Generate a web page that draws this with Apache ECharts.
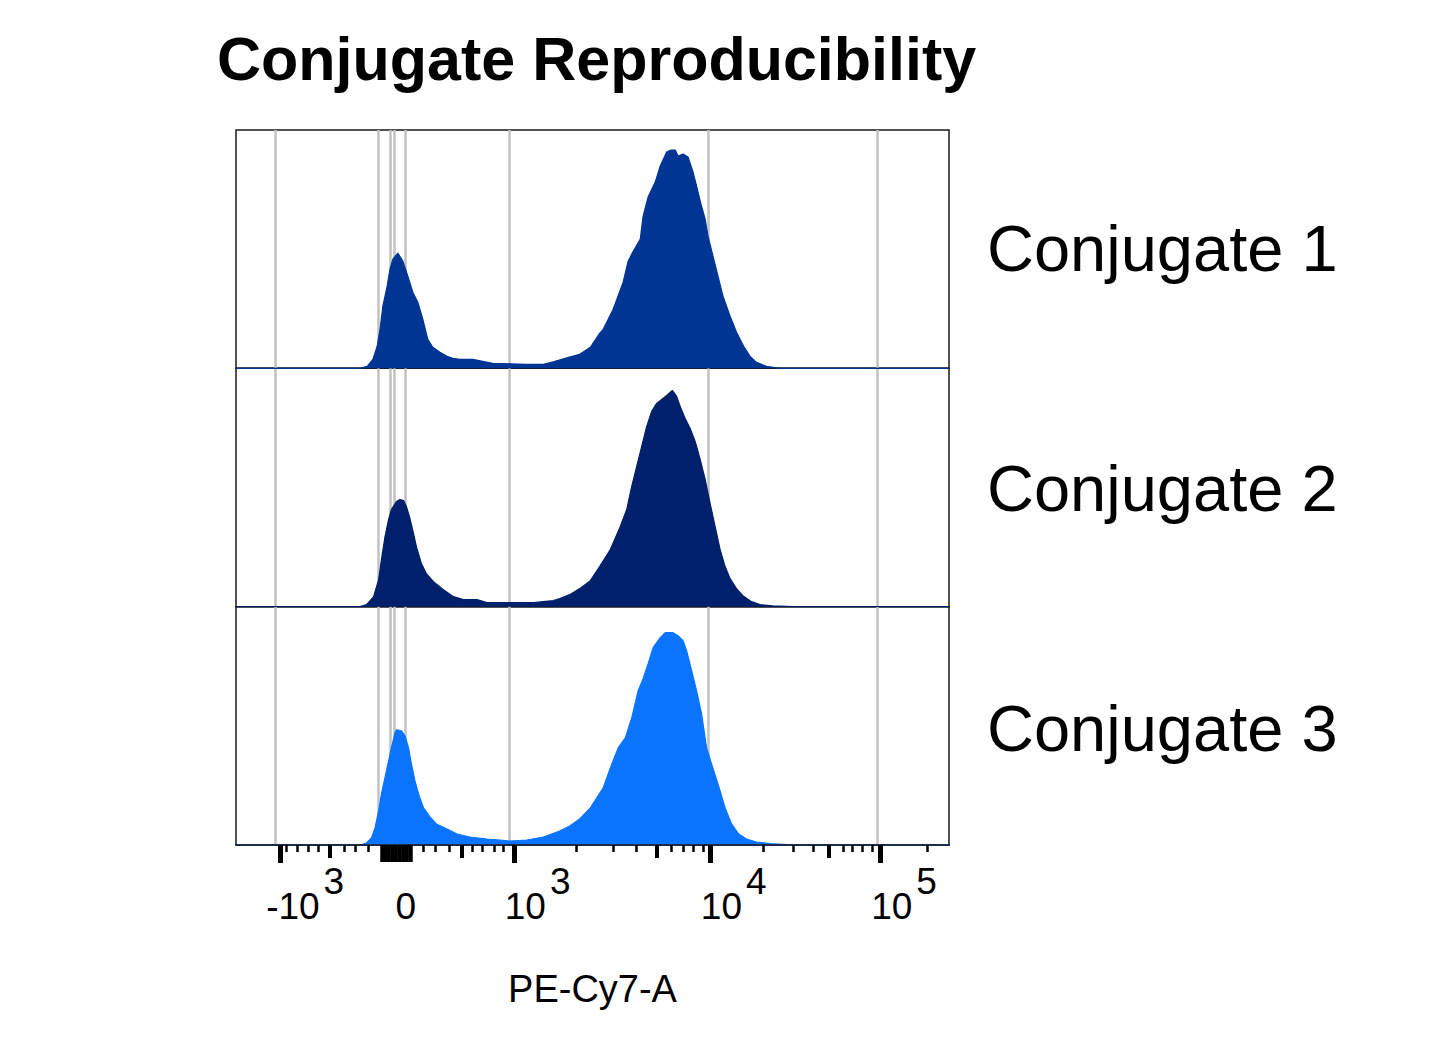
<!DOCTYPE html>
<html>
<head>
<meta charset="utf-8">
<title>Conjugate Reproducibility</title>
<script src="https://cdn.jsdelivr.net/npm/echarts@6/dist/echarts.min.js"></script>
<style>
html, body { margin: 0; padding: 0; background: #fff; }
#main { width: 1431px; height: 1064px; }
</style>
</head>
<body>
<div id="main"></div>
<script>
// x values are display units (0..1000) of the biexponential PE-Cy7-A scale
// y values are event counts of each histogram
var x1 = [0,174,184,192,198,202,206,212,216,220,227,234,241,248,255,262,269,276,286,296,304,314,332,346,360,384,408,431,445,464,482,497,510,515,529,543,550,555,567,571,578,588,595,604,610,616,620,627,634,641,646,651,658,662,669,676,683,693,702,712,721,730,744,763,1000];
var y1 = [0,0,2,9,22,39,62,82,99,109,115,107,92,76,66,49,29,21,16,12,10,9,9,7,5,4.5,4,4,6.5,10.5,14,21,35,39,59,86,107,114,129,152,171,186,202,216,218,218,212,214,211,196,182,167,149,132,112,92,72,52,36,22,12,6,2,0,0];

var x2 = [0,174,183,193,200,204,209,214,218,225,230,235,239,244,249,253,260,267,277,291,305,319,338,352,384,417,445,454,468,482,497,510,525,539,548,555,562,569,576,583,590,597,604,612,618,623,630,637,644,651,658,665,672,679,686,693,702,711,723,735,753,781,1000];
var y2 = [0,0,2,10,27,47,70,87,97,105,107,106,100,88,73,60,43,33,25,17,10,7,7,4,4,4,6,8,12,18,26,40,57,80,97,120,140,160,180,195,203,207,211,216,210,200,188,178,165,147,127,103,80,57,40,28,18,11,5,2,0.7,0,0];

var x3 = [0,174,183,190,195,200,204,211,218,223,225,232,237,242,246,251,256,263,272,281,296,310,328,352,370,384,408,431,454,468,482,497,506,515,525,536,546,555,564,571,578,585,595,602,613,620,627,632,639,646,653,660,667,676,686,695,705,716,730,749,773,1000];
var y3 = [0,0,2,7,17,34,51,74,97,112,115,114,109,97,81,64,51,37,28,21,16,11,8,6,5,4,5,8,14,19,26,37,47,57,77,97,107,127,154,166,181,197,207,212,212,209,204,194,174,154,131,97,81,61,37,21,11,6,3,1.3,0.3,0];

var names = ['Conjugate 1', 'Conjugate 2', 'Conjugate 3'];
var colors = ['#003594', '#00206b', '#0a74ff'];

// gray reference lines and axis ticks, in the same display units
var gridX = [55, 199, 217, 222, 238, 383, 663, 899];
var majorTicks = [62, 390, 665, 903];
var zeroTicks = [205, 209, 214, 219, 224, 229, 234, 239, 244];
var mediumTicks = [132, 316, 590, 832];
var minorTicks = [70, 86, 101, 116, 152, 167, 185, 262, 279, 299, 332, 346, 362, 375, 477, 529, 562, 610, 627, 641, 655, 739, 781, 809, 851, 865, 879, 892, 969];
var labelPos = [97, 238, 423, 698, 937];
var labelBase = ['-10', '0', '10', '10', '10'];
var labelExp = ['3', '', '3', '4', '5'];

var FONT = "'Liberation Sans', Arial, sans-serif";
var xs = [x1, x2, x3], ys = [y1, y2, y3];
var panelTop = 130, panelH = 238.33, yMax = 238;

var chart = echarts.init(document.getElementById('main'), null, {renderer: 'svg'});

var grids = [], xAxes = [], yAxes = [], series = [];
for (var i = 0; i < 3; i++) {
	grids.push({
		left: 236, width: 713, top: panelTop + i * panelH, height: panelH,
		show: true, borderColor: '#1a1a1a', borderWidth: 1.5, backgroundColor: 'transparent',
		outerBoundsMode: 'none'
	});
	xAxes.push({gridIndex: i, type: 'value', min: 0, max: 1000, show: false});
	yAxes.push({gridIndex: i, type: 'value', min: 0, max: yMax, show: false});
	// gray vertical reference lines, under the fill
	series.push({
		type: 'line', xAxisIndex: i, yAxisIndex: i, z: 1, silent: true,
		data: [[0, 0]], symbol: 'none', lineStyle: {width: 0},
		markLine: {
			silent: true, z: 1, symbol: ['none', 'none'], animation: false,
			label: {show: false},
			lineStyle: {color: '#c2c2c2', width: 2.5, type: 'solid'},
			data: gridX.map(function (v) { return {xAxis: v}; })
		}
	});
	series.push({
		type: 'line', name: names[i], xAxisIndex: i, yAxisIndex: i, z: 3, silent: true,
		data: xs[i].map(function (x, k) { return [x, ys[i][k]]; }),
		symbol: 'none', showSymbol: false,
		lineStyle: {color: colors[i], width: 1.2},
		areaStyle: {color: colors[i], opacity: 1}
	});
}

function tickAxis(values, len, width, showLine) {
	return {
		gridIndex: 2, type: 'value', min: 0, max: 1000, position: 'bottom', z: 10,
		axisLine: {show: showLine, onZero: false, lineStyle: {color: '#1b2b50', width: 2}},
		axisTick: {show: true, customValues: values, length: len, lineStyle: {color: '#000', width: width}},
		axisLabel: {show: false},
		splitLine: {show: false}
	};
}
xAxes.push(tickAxis(majorTicks, 18, 5, true));
xAxes.push(tickAxis(zeroTicks, 17, 4.5, false));
xAxes.push(tickAxis(mediumTicks, 13, 4, false));
xAxes.push(tickAxis(minorTicks, 7, 2.5, false));
xAxes.push({
	gridIndex: 2, type: 'value', min: 0, max: 1000, position: 'bottom',
	axisLine: {show: false, onZero: false},
	axisTick: {show: false},
	splitLine: {show: false},
	axisLabel: {
		show: true, customValues: labelPos, margin: 31,
		formatter: function (v) {
			var k = 0, best = 1e9;
			for (var j = 0; j < labelPos.length; j++) {
				var d = Math.abs(labelPos[j] - v);
				if (d < best) { best = d; k = j; }
			}
			if (!labelExp[k]) return '{z|' + labelBase[k] + '}';
			return '{b|' + labelBase[k] + '}{s|' + labelExp[k] + '}';
		},
		rich: {
			b: {fontFamily: FONT, fontSize: 37, lineHeight: 37, color: '#000', padding: [25, 0, 0, 0]},
			s: {fontFamily: FONT, fontSize: 37, lineHeight: 37, color: '#000', padding: [0, 0, 25, 4]},
			z: {fontFamily: FONT, fontSize: 37, lineHeight: 37, color: '#000', padding: [25, 0, 0, 0]}
		}
	},
	name: 'PE-Cy7-A', nameLocation: 'middle', nameGap: 125,
	nameTextStyle: {fontFamily: FONT, fontSize: 38, color: '#000'}
});

var titles = [{
	text: 'Conjugate Reproducibility', left: 217, top: 28, padding: 0,
	textStyle: {fontFamily: FONT, fontWeight: 'bold', fontSize: 61, color: '#000'}
}];
for (var t = 0; t < 3; t++) {
	titles.push({
		text: names[t], left: 987, top: 216 + t * 240, padding: 0,
		textStyle: {fontFamily: FONT, fontWeight: 'normal', fontSize: 65, color: '#000'}
	});
}

chart.setOption({
	backgroundColor: '#fff',
	animation: false,
	title: titles,
	grid: grids,
	xAxis: xAxes,
	yAxis: yAxes,
	series: series
});
</script>
</body>
</html>
